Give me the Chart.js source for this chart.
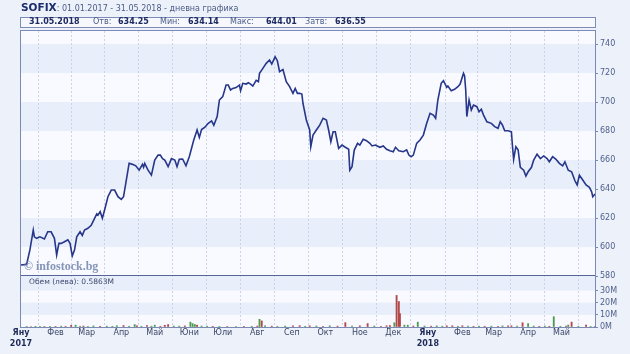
<!DOCTYPE html>
<html>
<head>
<meta charset="utf-8">
<script src="https://cdn.jsdelivr.net/npm/chart.js@4/dist/chart.umd.min.js"></script>
<style>
  body { margin: 0; background: #edf2fa; }
  #wrap { position: relative; width: 630px; height: 354px; font-family: "DejaVu Sans", Verdana, sans-serif; }
  canvas { position: absolute; left: 0; top: 0; }
  .title { position: absolute; left: 21px; top: 1px; font-size: 8px; color: #4a5a86; white-space: nowrap; }
  .title b { font-size: 10.5px; color: #1c2c6c; }
  .info { position: absolute; left: 20px; top: 17px; width: 574px; height: 9px; border: 1px solid #7d8cb6; background: #f6f8fd; }
  .info span { position: absolute; top: -1px; font-size: 8px; color: #4a5a86; white-space: nowrap; }
  .info span.v { font-weight: bold; color: #1c2a60; }
  .mark { position: absolute; left: 24px; top: 259px; font: bold 12px "Liberation Serif", serif; color: #8595b8; }
  .vol { position: absolute; left: 29px; top: 277px; font-size: 7.5px; color: #3e4a70; white-space: nowrap; }
</style>
</head>
<body>
<div id="wrap">
  <canvas id="sofixChart" width="630" height="354"></canvas>
  <div class="title"><b>SOFIX</b>: 01.01.2017 - 31.05.2018 - дневна графика</div>
  <div class="info">
    <span class="v" style="left:8px">31.05.2018</span>
    <span style="left:72px">Отв:</span><span class="v" style="left:97px">634.25</span>
    <span style="left:139px">Мин:</span><span class="v" style="left:167px">634.14</span>
    <span style="left:209px">Макс:</span><span class="v" style="left:245px">644.01</span>
    <span style="left:284px">Затв:</span><span class="v" style="left:314px">636.55</span>
  </div>
  <div class="mark">© infostock.bg</div>
  <div class="vol">Обем (лева): 0.5863M</div>
</div>
<script>
// days counted from 01.01.2017
const priceDays = [
  0, 5, 8, 11, 12, 14, 17, 21, 24, 27, 30, 32, 34, 36, 39, 42, 44, 46, 48, 50,
  53, 55, 57, 60, 63, 66, 68, 69, 71, 73, 75, 78, 81, 84, 87, 90, 92, 94, 97, 100,
  103, 106, 109, 110, 111, 114, 117, 120, 123, 125, 127, 129, 132, 135, 138, 140, 142, 145, 148, 151,
  155, 158, 160, 162, 165, 168, 171, 173, 176, 178, 181, 184, 186, 188, 190, 193, 196, 197, 199, 202,
  204, 206, 208, 211, 213, 214, 217, 220, 223, 225, 228, 230, 232, 235, 238, 241, 244, 246, 248, 250,
  252, 253, 256, 259, 260, 262, 265, 268, 271, 274, 276, 278, 280, 282, 285, 288, 291, 294, 295, 297,
  299, 302, 304, 307, 310, 313, 315, 318, 322, 325, 328, 331, 334, 336, 339, 343, 346, 348, 350, 352,
  355, 358, 361, 364, 367, 370, 372, 374, 377, 379, 382, 383, 386, 389, 392, 394, 397, 398, 399, 400,
  402, 404, 406, 409, 411, 413, 415, 418, 422, 425, 428, 430, 432, 434, 437, 440, 441, 442, 444, 446,
  448, 451, 453, 455, 458, 460, 463, 466, 469, 472, 474, 477, 480, 483, 486, 488, 491, 494, 497, 499,
  501, 504, 507, 510, 512, 513, 515
];
const priceValues = [
  587.6, 588.0, 598.0, 611.7, 607.0, 606.0, 607.0, 605.5, 610.5, 610.5, 606.0, 594.5, 602.5, 602.5, 603.6, 605.0, 602.5, 593.8, 597.9, 607.0,
  610.5, 608.0, 611.7, 612.9, 615.0, 619.8, 622.8, 622.0, 624.4, 619.8, 625.5, 634.7, 639.3, 639.3, 634.7, 632.9, 634.7, 643.9, 657.7, 657.0,
  656.0, 653.0, 657.0, 655.0, 657.7, 653.0, 649.6, 660.0, 663.4, 663.4, 661.0, 660.0, 655.4, 661.0, 660.0, 655.4, 660.5, 660.7, 656.0, 662.3,
  673.8, 680.7, 675.6, 681.0, 682.6, 685.3, 687.0, 684.0, 690.0, 701.4, 703.7, 711.7, 711.7, 708.3, 709.4, 710.0, 711.7, 707.8, 712.9, 712.4,
  713.3, 712.4, 711.0, 715.0, 714.0, 719.8, 723.2, 726.7, 729.0, 726.2, 731.2, 728.5, 721.0, 722.5, 714.0, 710.6, 706.0, 709.4, 706.0, 706.0,
  705.5, 699.0, 687.6, 680.7, 669.2, 677.2, 680.7, 684.1, 688.8, 687.6, 680.7, 672.6, 679.5, 679.5, 668.0, 670.3, 668.8, 667.4, 653.0, 655.4,
  666.9, 671.5, 670.3, 674.3, 673.3, 671.5, 669.7, 670.3, 668.8, 669.7, 667.4, 666.4, 665.7, 668.8, 666.4, 665.7, 667.0, 663.4, 662.3, 663.4,
  671.5, 673.8, 677.2, 685.3, 692.2, 691.0, 688.8, 701.4, 712.9, 714.7, 710.1, 711.0, 707.8, 708.8, 710.6, 712.4, 719.8, 718.0, 708.3, 690.0,
  701.4, 694.5, 697.9, 696.8, 693.3, 695.0, 691.0, 686.4, 685.3, 683.0, 681.9, 686.4, 684.1, 680.2, 680.2, 679.5, 669.2, 660.5, 669.2, 667.0,
  655.0, 653.0, 649.0, 651.9, 655.0, 660.0, 664.0, 661.0, 662.8, 661.0, 658.8, 662.3, 660.5, 657.7, 656.0, 658.8, 653.0, 651.9, 645.7, 642.8,
  649.6, 646.2, 642.8, 641.2, 638.1, 634.7, 636.55
];

// volume in millions of leva, 1 = up day (green), 0 = down day (red)
const volDays = [
  5, 9, 13, 17, 21, 26, 31, 36, 40, 45, 49, 53, 56, 60, 65, 71, 77, 82, 86, 92,
  97, 102, 104, 108, 113, 117, 120, 125, 129, 132, 137, 142, 147, 152, 154, 156, 158, 162, 167, 172,
  178, 185, 193, 200, 207, 212, 214, 216, 219, 225, 230, 237, 244, 250, 255, 259, 265, 271, 277, 284,
  291, 297, 304, 311, 317, 323, 328, 331, 335, 337, 339, 340, 344, 347, 352, 356, 362, 368, 373, 378,
  382, 387, 392, 396, 401, 406, 411, 416, 422, 428, 432, 437, 440, 445, 450, 455, 460, 465, 470, 474,
  478, 484, 489, 491, 494, 500, 507, 511, 515
];
const volValues = [
  0.5, 0.4, 0.6, 0.5, 0.4, 0.6, 0.5, 0.7, 0.5, 1.4, 1.5, 0.6, 0.8, 0.5, 0.9, 0.6, 0.7, 0.6, 1.0, 1.2,
  0.6, 2.0, 1.0, 0.6, 1.1, 0.7, 1.5, 0.6, 1.4, 2.0, 0.8, 0.7, 0.9, 4.0, 2.8, 2.0, 1.5, 0.8, 0.7, 0.6,
  0.5, 0.4, 0.4, 0.5, 0.6, 0.8, 6.3, 5.0, 1.0, 0.7, 0.6, 0.8, 1.0, 1.1, 0.6, 1.0, 0.8, 0.6, 1.0, 0.7,
  3.6, 0.7, 1.0, 2.8, 0.8, 0.6, 1.0, 1.2, 3.5, 26.0, 21.0, 11.0, 1.5, 1.5, 0.8, 4.0, 0.8, 0.7, 0.9, 0.7,
  1.0, 1.0, 0.6, 1.0, 0.8, 0.6, 0.7, 0.6, 0.7, 0.6, 0.9, 1.0, 1.0, 0.8, 3.5, 2.8, 0.8, 0.6, 0.8, 0.6,
  8.5, 0.6, 0.7, 1.6, 4.0, 0.6, 1.6, 0.5, 0.59
];
const volUp = [
  1, 0, 1, 1, 0, 1, 0, 1, 0, 0, 1, 1, 0, 1, 1, 0, 1, 1, 1, 0,
  1, 1, 0, 1, 0, 1, 1, 0, 0, 0, 1, 1, 0, 1, 1, 1, 0, 1, 1, 0,
  1, 0, 1, 0, 1, 0, 1, 0, 1, 0, 1, 1, 0, 0, 1, 0, 1, 0, 1, 0,
  0, 1, 0, 0, 1, 0, 0, 0, 1, 0, 0, 0, 1, 1, 0, 1, 1, 0, 1, 1,
  0, 0, 1, 0, 1, 0, 1, 0, 1, 0, 1, 0, 0, 1, 0, 1, 1, 0, 1, 0,
  1, 1, 0, 1, 0, 1, 0, 1, 0
];

const monthDays = [0, 31, 59, 90, 120, 151, 181, 212, 243, 273, 304, 334, 365, 396, 424, 455, 485];
const monthLabels = ["Яну", "Фев", "Мар", "Апр", "Май", "Юни", "Юли", "Авг", "Сеп", "Окт", "Ное", "Дек",
                     "Яну", "Фев", "Мар", "Апр", "Май"];
const yearLabels = { 0: "2017", 12: "2018" };
const priceTicks = [580, 600, 620, 640, 660, 680, 700, 720, 740];
const volTicks = [0, 10, 20, 30];

const priceBands = [[600, 620], [640, 660], [680, 700], [720, 740]];
const volBands = [[10, 20], [30, 42]];

const FONT = "DejaVu Sans";
const frameColor = "#7b8ab4";

// striped panel backgrounds + frame
const panels = {
  id: "panels",
  beforeDraw(chart) {
    const { ctx, chartArea: a, scales } = chart;
    const w = a.right - a.left;
    ctx.save();
    ctx.fillStyle = "#f8faff";
    ctx.fillRect(a.left, a.top, w, a.bottom - a.top);
    ctx.fillStyle = "#e8eefa";
    priceBands.forEach(([lo, hi]) => {
      const t = scales.y.getPixelForValue(hi);
      ctx.fillRect(a.left, t, w, scales.y.getPixelForValue(lo) - t);
    });
    volBands.forEach(([lo, hi]) => {
      const t = scales.yVol.getPixelForValue(hi);
      ctx.fillRect(a.left, t, w, scales.yVol.getPixelForValue(lo) - t);
    });
    ctx.restore();
  },
  afterDatasetsDraw(chart) {
    const { ctx, chartArea: a, scales } = chart;
    ctx.save();
    ctx.strokeStyle = frameColor;
    ctx.lineWidth = 1;
    ctx.strokeRect(a.left - 0.5, a.top - 0.5, a.right - a.left + 1, a.bottom - a.top + 1);
    const sep = Math.round(scales.y.bottom) - 0.5;
    ctx.strokeStyle = "#55659a";
    ctx.beginPath();
    ctx.moveTo(a.left, sep);
    ctx.lineTo(a.right, sep);
    ctx.stroke();
    ctx.restore();
  }
};

const ctx = document.getElementById("sofixChart").getContext("2d");

new Chart(ctx, {
  type: "line",
  data: {
    datasets: [
      {
        label: "SOFIX",
        data: priceDays.map((d, i) => ({ x: d, y: priceValues[i] })),
        borderColor: "#26368a",
        borderWidth: 1.6,
        pointRadius: 0,
        tension: 0,
        yAxisID: "y"
      },
      {
        type: "bar",
        label: "Обем",
        data: volDays.map((d, i) => ({ x: d, y: volValues[i] })),
        backgroundColor: volUp.map(u => (u ? "#4f9a4f" : "#b04848")),
        barThickness: 1.2,
        yAxisID: "yVol"
      }
    ]
  },
  options: {
    responsive: false,
    animation: false,
    layout: { padding: { left: 21, top: 31, right: 0, bottom: 0 } },
    plugins: { legend: { display: false }, tooltip: { enabled: false } },
    scales: {
      x: {
        type: "linear",
        min: 0,
        max: 515,
        offset: false,
        afterBuildTicks: s => { s.ticks = monthDays.map(v => ({ value: v })); },
        afterFit: s => { s.height = 27; },
        grid: {
          drawTicks: false,
          color: c => (c.index === 0 ? "rgba(0,0,0,0)" : "#cdd2ea"),
          lineWidth: 1
        },
        border: { display: false, dash: [2, 2] },
        ticks: {
          autoSkip: false,
          maxRotation: 0,
          padding: 1,
          color: c => (yearLabels[c.index] ? "#1e2a58" : "#3c4566"),
          font: c => ({ family: FONT, size: 8, lineHeight: 1.3, weight: yearLabels[c.index] ? "bold" : "normal" }),
          callback: (v, i) => (yearLabels[i] ? [monthLabels[i], yearLabels[i]] : monthLabels[i])
        }
      },
      y: {
        position: "right",
        stack: "panels",
        stackWeight: 245,
        min: 580,
        max: 749,
        afterBuildTicks: s => { s.ticks = priceTicks.map(v => ({ value: v })); },
        afterFit: s => { s.width = 35; },
        grid: { drawOnChartArea: false, tickLength: 3, color: frameColor },
        border: { display: false },
        ticks: { autoSkip: false, padding: 2, color: "#50608c", font: { family: FONT, size: 8 } }
      },
      yVol: {
        position: "right",
        stack: "panels",
        stackWeight: 51,
        min: 0,
        max: 42,
        afterBuildTicks: s => { s.ticks = volTicks.map(v => ({ value: v })); },
        afterFit: s => { s.width = 35; },
        grid: { drawOnChartArea: false, tickLength: 3, color: frameColor },
        border: { display: false },
        ticks: { autoSkip: false, padding: 2, color: "#50608c", font: { family: FONT, size: 8 }, callback: v => v + "M" }
      }
    }
  },
  plugins: [panels]
});
</script>
</body>
</html>
